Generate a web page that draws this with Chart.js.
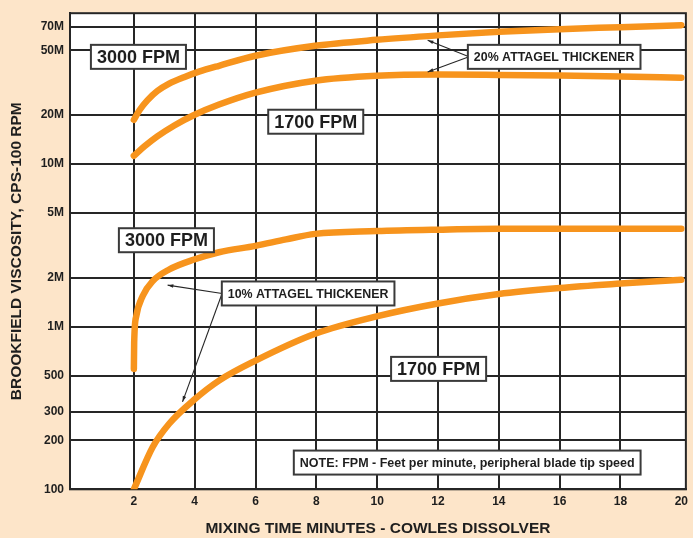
<!DOCTYPE html>
<html>
<head>
<meta charset="utf-8">
<script src="https://cdn.jsdelivr.net/npm/chart.js@4.4.1/dist/chart.umd.min.js"></script>
<style>
  html, body { margin: 0; padding: 0; background: #fde5c9; }
  #wrap { width: 693px; height: 538px; }
</style>
</head>
<body>
<div id="wrap"><canvas id="viscChart" width="693" height="538"></canvas></div>
<script>
// Readings: mixing time (minutes) and viscosity (cps)
const min20pct3000 = [2, 2.19, 2.45, 2.77, 3.16, 3.65, 4.14, 4.8, 6, 7.96, 9.98, 12, 14, 16, 18, 20];
const visc20pct3000 = [18.7e6, 21.5e6, 24.7e6, 28.1e6, 31.2e6, 34.2e6, 36.95e6, 40.2e6, 46.3e6, 53.3e6, 58e6, 61.8e6, 65.1e6, 67.5e6, 69.4e6, 71.4e6];

const min20pct1700 = [2, 2.35, 2.77, 3.33, 3.98, 4.8, 6, 7.96, 9.98, 12, 14, 16, 18, 20];
const visc20pct1700 = [11.24e6, 12.85e6, 14.79e6, 17.27e6, 20.02e6, 23.21e6, 27.49e6, 32.55e6, 34.9e6, 35.5e6, 35.3e6, 35e6, 34.5e6, 33.9e6];

const min10pct3000 = [2, 2.01, 2.08, 2.29, 2.62, 3.16, 3.98, 4.8, 6, 7, 7.96, 9.98, 12, 14, 16, 18, 20];
const visc10pct3000 = [550e3, 799e3, 1.164e6, 1.543e6, 1.906e6, 2.247e6, 2.587e6, 2.868e6, 3.14e6, 3.44e6, 3.72e6, 3.87e6, 3.95e6, 4e6, 4e6, 4e6, 4e6];

const min10pct1700 = [2, 2.62, 3.16, 3.98, 4.8, 6, 7.96, 9.98, 12, 14, 16, 18, 20];
const visc10pct1700 = [100e3, 182e3, 253e3, 355e3, 466e3, 618e3, 904e3, 1.156e6, 1.388e6, 1.587e6, 1.728e6, 1.84e6, 1.944e6];

const xTickValues = [2, 4, 6, 8, 10, 12, 14, 16, 18, 20];
const yTickValues = [1e5, 2e5, 3e5, 5e5, 1e6, 2e6, 5e6, 1e7, 2e7, 5e7, 7e7];
const yTickLabels = ['100', '200', '300', '500', '1M', '2M', '5M', '10M', '20M', '50M', '70M'];

// Boxed notes, placed in data units
const noteBoxes = [
  { text: '3000 FPM', x: 2.15, y: 45.6e6, size: 18 },
  { text: '1700 FPM', x: 7.98, y: 18.2e6, size: 18 },
  { text: '20% ATTAGEL THICKENER', x: 15.82, y: 45.6e6, size: 12.4 },
  { text: '3000 FPM', x: 3.07, y: 3.4e6, size: 18 },
  { text: '10% ATTAGEL THICKENER', x: 7.73, y: 1.6e6, size: 12.4 },
  { text: '1700 FPM', x: 12.02, y: 550e3, size: 18 },
  { text: 'NOTE: FPM - Feet per minute, peripheral blade tip speed', x: 12.96, y: 146e3, size: 12.5 }
];
const pointers = [
  { from: [13.02, 45.6e6], to: [11.66, 57.7e6] },
  { from: [13.02, 45.6e6], to: [11.66, 36.8e6] },
  { from: [4.9, 1.6e6], to: [3.11, 1.8e6] },
  { from: [4.9, 1.6e6], to: [3.6, 345e3] }
];

const ORANGE = '#f7941d';
const INK = '#262626';
const FONT = '"Liberation Sans", Arial, sans-serif';

function toPoints(xs, ys) {
  return xs.map((m, i) => ({ x: m, y: ys[i] }));
}

function curve(xs, ys) {
  return {
    data: toPoints(xs, ys),
    borderColor: ORANGE,
    borderWidth: 6.5,
    borderCapStyle: 'round',
    borderJoinStyle: 'round',
    pointRadius: 0,
    fill: false,
    cubicInterpolationMode: 'monotone'
  };
}

const paperPlugin = {
  id: 'paper',
  beforeDraw(chart) {
    const { ctx, chartArea: a } = chart;
    ctx.save();
    ctx.fillStyle = '#fde5c9';
    ctx.fillRect(0, 0, chart.width, chart.height);
    ctx.fillStyle = '#ffffff';
    ctx.fillRect(a.left, a.top, a.right - a.left, a.bottom - a.top);
    ctx.restore();
  },
  beforeDatasetsDraw(chart) {
    const { ctx, chartArea: a } = chart;
    ctx.save();
    ctx.strokeStyle = INK;
    ctx.lineWidth = 2;
    ctx.strokeRect(a.left, a.top, a.right - a.left, a.bottom - a.top);
    ctx.restore();
  },
  afterDatasetsDraw(chart) {
    const ctx = chart.ctx;
    const xs = chart.scales.x, ys = chart.scales.y;
    ctx.save();
    // arrows
    ctx.strokeStyle = INK;
    ctx.fillStyle = INK;
    ctx.lineWidth = 1.1;
    pointers.forEach(p => {
      const x1 = xs.getPixelForValue(p.from[0]), y1 = ys.getPixelForValue(p.from[1]);
      const x2 = xs.getPixelForValue(p.to[0]), y2 = ys.getPixelForValue(p.to[1]);
      ctx.beginPath();
      ctx.moveTo(x1, y1);
      ctx.lineTo(x2, y2);
      ctx.stroke();
      const ang = Math.atan2(y2 - y1, x2 - x1);
      ctx.beginPath();
      ctx.moveTo(x2, y2);
      ctx.lineTo(x2 - 6 * Math.cos(ang - 0.3), y2 - 6 * Math.sin(ang - 0.3));
      ctx.lineTo(x2 - 6 * Math.cos(ang + 0.3), y2 - 6 * Math.sin(ang + 0.3));
      ctx.closePath();
      ctx.fill();
    });
    // boxes
    noteBoxes.forEach(b => {
      const cx = xs.getPixelForValue(b.x), cy = ys.getPixelForValue(b.y);
      ctx.font = `bold ${b.size}px ${FONT}`;
      const w = ctx.measureText(b.text).width + 12;
      const h = 24;
      ctx.fillStyle = '#ffffff';
      ctx.fillRect(cx - w / 2, cy - h / 2, w, h);
      ctx.lineWidth = 2;
      ctx.strokeStyle = '#3a3a3a';
      ctx.strokeRect(cx - w / 2, cy - h / 2, w, h);
      ctx.fillStyle = '#1e1e1e';
      ctx.textAlign = 'center';
      ctx.textBaseline = 'middle';
      ctx.fillText(b.text, cx, cy + 1);
    });
    ctx.restore();
  }
};

const ctx = document.getElementById('viscChart').getContext('2d');
new Chart(ctx, {
  type: 'line',
  data: {
    datasets: [
      curve(min20pct3000, visc20pct3000),
      curve(min20pct1700, visc20pct1700),
      curve(min10pct3000, visc10pct3000),
      curve(min10pct1700, visc10pct1700)
    ]
  },
  options: {
    responsive: false,
    animation: false,
    layout: { padding: { top: 10.7, right: 2.3, bottom: 0, left: 0 } },
    plugins: { legend: { display: false }, tooltip: { enabled: false } },
    scales: {
      x: {
        type: 'linear',
        min: -0.1,
        max: 20.15,
        bounds: 'data',
        afterBuildTicks: s => { s.ticks = xTickValues.map(v => ({ value: v })); },
        afterFit: s => { s.height = 48.7; },
        grid: {
          drawTicks: false,
          lineWidth: 2,
          color: c => (c.tick && c.tick.value === 20 ? 'rgba(0,0,0,0)' : INK)
        },
        border: { display: true, color: INK, width: 2 },
        ticks: {
          autoSkip: false,
          maxRotation: 0,
          padding: 5,
          color: '#1e1e1e',
          font: { family: FONT, size: 12, weight: 'bold' }
        },
        title: {
          display: true,
          text: 'MIXING TIME MINUTES - COWLES DISSOLVER',
          color: '#1e1e1e',
          padding: { top: 4, bottom: 0 },
          font: { family: FONT, size: 15.5, weight: 'bold' }
        }
      },
      y: {
        type: 'logarithmic',
        min: 100000,
        max: 84.6e6,
        bounds: 'data',
        afterBuildTicks: s => { s.ticks = yTickValues.map(v => ({ value: v })); },
        afterFit: s => { s.width = 70; },
        grid: { drawTicks: false, lineWidth: 2, color: INK },
        border: { display: true, color: INK, width: 2 },
        ticks: {
          autoSkip: false,
          padding: 6,
          color: '#1e1e1e',
          font: { family: FONT, size: 12, weight: 'bold' },
          callback: (v, i) => yTickLabels[i]
        },
        title: {
          display: true,
          text: 'BROOKFIELD VISCOSITY, CPS-100 RPM',
          color: '#1e1e1e',
          padding: { top: 7, bottom: 0 },
          font: { family: FONT, size: 15.5, weight: 'bold' }
        }
      }
    }
  },
  plugins: [paperPlugin]
});
</script>
</body>
</html>
